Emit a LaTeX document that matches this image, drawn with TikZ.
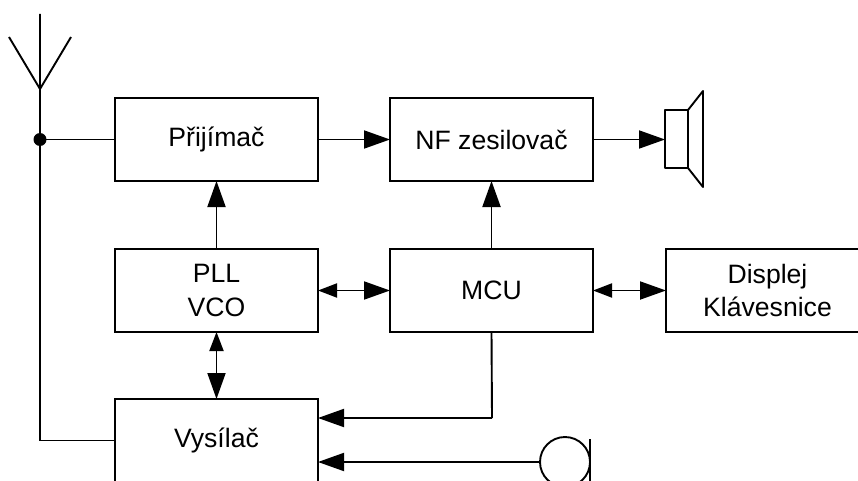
\documentclass[tikz,border=0pt]{standalone}
\usepackage{fontspec}
\setmainfont{Liberation Sans}
\usetikzlibrary{arrows.meta}
\tikzset{
  x=1pt,y=-1pt,
  blockbox/.style={draw,line width=1.9pt,minimum width=203pt,minimum height=83pt,inner sep=0pt,outer sep=0pt,anchor=north west,align=center,font=\fontsize{26.6}{33.5}\selectfont},
  wire/.style={line width=1.9pt},
  sig/.style={wire,-{Triangle[length=26pt,width=18pt]}},
  bisig/.style={wire,{Triangle[length=19pt,width=14pt]}-{Triangle[length=26pt,width=18pt]}},
}
\begin{document}
\begin{tikzpicture}
\useasboundingbox (0,0) rectangle (858,481);
\begin{scope}
\clip (0,0) rectangle (858,481);
\node[blockbox] (rx) at (115,98) {Přijímač};
\node[blockbox] (nf) at (390,98) {NF zesilovač};
\node[blockbox] (pll) at (115,249) {PLL\\VCO};
\node[blockbox] (mcu) at (390,249) {MCU};
\node[blockbox] (disp) at (666,249) {Displej\\Klávesnice};
\node[blockbox] (tx) at (115,399) {};
\node[font=\fontsize{26.6}{33.5}\selectfont] (txl) at (216.5,440.5) {Vysílač};
% antenna
\coordinate (anttop) at (40,14);
\coordinate (antfoot) at (40,89);
\coordinate (antl) at (9,37);
\coordinate (antr) at (71,37);
\coordinate (jn) at (40,139.5);
\coordinate (txcorner) at (40,440.5);
\draw[wire] (anttop) -- (antfoot) (antl) -- (antfoot) -- (antr);
\draw[wire] (antfoot) -- (txcorner) -- (tx.west);
\draw[wire] (jn) -- (rx.west);
\fill (jn) circle (6.5);
% signals
\draw[sig] (rx.east) -- (nf.west);
\draw[sig] (pll.north) -- (rx.south);
\draw[sig] (mcu.north) -- (nf.south);
\draw[bisig] (pll.east) -- (mcu.west);
\draw[bisig] (mcu.east) -- (disp.west);
\draw[bisig] (pll.south) -- (tx.north);
% speaker
\coordinate (spk) at (665,139.5);
\draw[sig] (nf.east) -- (spk);
\draw[wire,line join=round] (665,110) rectangle (688,168);
\draw[wire,line join=round] (688,110) -- (703,91) -- (703,187) -- (688,168);
% mic and MCU line
\coordinate (bend) at (492,418);
\coordinate (txa) at (318,418);
\coordinate (txb) at (318,462);
\coordinate (mic) at (540,462);
\draw[wire] (mcu.south) -- (bend);
\draw[sig] (bend) -- (txa);
\draw[sig] (mic) -- (txb);
\draw[wire] (565,462) circle (25);
\draw[wire] (590,439) -- (590,481);
\end{scope}
\end{tikzpicture}
\end{document}
